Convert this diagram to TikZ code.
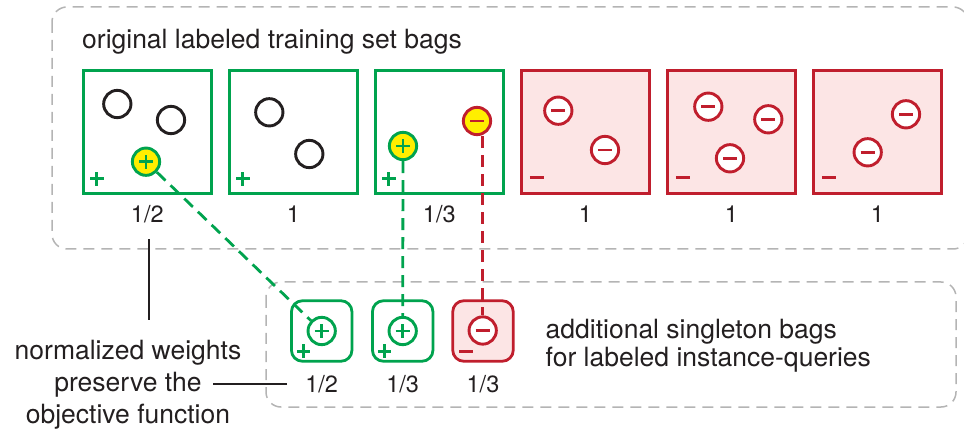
\documentclass[tikz,border=0pt]{standalone}
\usepackage{fontspec}
\setmainfont{TeX Gyre Heros}
\definecolor{ink}{RGB}{35,31,32}
\definecolor{grn}{RGB}{0,163,78}
\definecolor{rd}{RGB}{192,30,45}
\definecolor{pnk}{RGB}{252,229,229}
\definecolor{yel}{RGB}{255,238,0}
\definecolor{frame}{RGB}{180,180,180}
\tikzset{
  labeltext/.style={text=ink, inner sep=0, font=\fontsize{26.5}{32}\selectfont},
  weight/.style={text=ink, inner sep=0, anchor=base, font=\fontsize{23.5}{28}\selectfont},
  groupframe/.style={draw=frame, line width=1.5, dash pattern=on 11pt off 7pt, rounded corners=15},
  bagpos/.style={draw=grn, fill=white, line width=2.8, minimum width=128.2, minimum height=123.2, inner sep=0},
  bagneg/.style={draw=rd, fill=pnk, line width=2.8, minimum width=128.2, minimum height=123.2, inner sep=0},
  single/.style={line width=2.8, rounded corners=11, minimum size=60.5, inner sep=0},
  inst/.style={circle, draw=ink, fill=white, line width=2.9, minimum size=27.3, inner sep=0},
  plussign/.style={path picture={\draw[grn, line width=2.8]
      ([xshift=-7pt]path picture bounding box.center) -- ([xshift=7pt]path picture bounding box.center)
      ([yshift=-7pt]path picture bounding box.center) -- ([yshift=7pt]path picture bounding box.center);}},
  minussign/.style={path picture={\draw[rd, line width=2.8]
      ([xshift=-7pt]path picture bounding box.center) -- ([xshift=7pt]path picture bounding box.center);}},
  posinst/.style={inst, draw=grn, plussign},
  neginst/.style={inst, draw=rd, minussign},
  query/.style={fill=yel},
  gdash/.style={draw=grn, line width=2.8, dash pattern=on 12pt off 7pt},
  rdash/.style={draw=rd, line width=2.8, dash pattern=on 12pt off 7pt},
  note/.style={draw=ink, line width=2.2},
  plusmark/.pic={\draw[grn, line width=3] (-6.7,0) -- (6.7,0) (0,-6.7) -- (0,6.7);},
  minusmark/.pic={\draw[rd, line width=3] (-7,0) -- (7,0);}
}
\begin{document}
\begin{tikzpicture}[x=1pt, y=-1pt]
\useasboundingbox (0,0) rectangle (964,430);

% group frames
\draw[groupframe] (52,7) rectangle (968,249);
\draw[groupframe] (266,282) rectangle (956,407);

% caption of the upper group
\node[labeltext, anchor=base west] (title) at (82,48.5) {original labeled training set bags};

% original bags
\node[bagpos] (b1) at (147.3,132) {};
\node[bagpos] (b2) at (293.3,132) {};
\node[bagpos] (b3) at (439.3,132) {};
\node[bagneg] (b4) at (585.3,132) {};
\node[bagneg] (b5) at (731.3,132) {};
\node[bagneg] (b6) at (877.3,132) {};

% bag labels
\foreach \b in {b1,b2,b3} \pic at ([shift={(15,-16)}]\b.south west) {plusmark};
\foreach \b in {b4,b5,b6} \pic at ([shift={(17,-17)}]\b.south west) {minusmark};

% bag weights
\node[weight] (w1) at (147.3,222.6) {1/2};
\node[weight] (w2) at (293.3,222.6) {1};
\node[weight] (w3) at (439.3,222.6) {1/3};
\node[weight] (w4) at (585.3,222.6) {1};
\node[weight] (w5) at (731.3,222.6) {1};
\node[weight] (w6) at (877.3,222.6) {1};

% singleton bags
\node[single, draw=grn, fill=white] (s1) at (321.7,331) {};
\node[single, draw=grn, fill=white] (s2) at (402.7,331) {};
\node[single, draw=rd, fill=pnk] (s3) at (483,331) {};
\pic at ([shift={(13.5,-11.5)}]s1.south west) {plusmark};
\pic at ([shift={(13.5,-11.5)}]s2.south west) {plusmark};
\pic at ([shift={(15,-11.5)}]s3.south west) {minusmark};

\node[weight] (l1) at (321.7,392.6) {1/2};
\node[weight] (l2) at (402.7,392.6) {1/3};
\node[weight] (l3) at (483,392.6) {1/3};

% unlabeled instances
\node[inst] (i11) at (117.3,104) {};
\node[inst] (i12) at (171,120) {};
\node[inst] (i21) at (269.3,112.3) {};
\node[inst] (i22) at (309.3,154) {};

% queried instances
\node[posinst, query] (q1) at (146,161.7) {};
\node[posinst, query] (q2) at (403,146) {};
\node[neginst, query] (q3) at (477,121) {};

% negative instances
\node[neginst] (i41) at (558.3,110.7) {};
\node[neginst] (i42) at (605,150) {};
\node[neginst] (i51) at (708.3,106.7) {};
\node[neginst] (i52) at (768.3,119.3) {};
\node[neginst] (i53) at (730,158.3) {};
\node[neginst] (i61) at (906,114.3) {};
\node[neginst] (i62) at (867.7,152.3) {};

% instances of the singleton bags
\node[posinst] (c1) at (321.7,331) {};
\node[posinst] (c2) at (402.7,331) {};
\node[neginst] (c3) at (482.7,330.5) {};

% query links
\draw[gdash] (q1) -- (c1);
\draw[gdash] (q2) -- (c2);
\draw[rdash] (q3.south -| c3.north) -- (c3.north);

% annotation
\node[labeltext, align=center, anchor=north] (ann) at (128,339.5)
  {normalized weights\\preserve the\\objective function};
\draw[note] ([shift={(1.7,16)}]w1.south) -- ([shift={(21,-19)}]ann.north);
\draw[note] ([xshift=-18pt]l1.west) -- ([xshift=-92.5pt]l1.west);

% caption of the lower group
\node[labeltext, align=left, anchor=north west, font=\fontsize{26.5}{28}\selectfont] (extra) at (545.5,318.5)
  {additional singleton bags\\for labeled instance-queries};
\end{tikzpicture}
\end{document}
